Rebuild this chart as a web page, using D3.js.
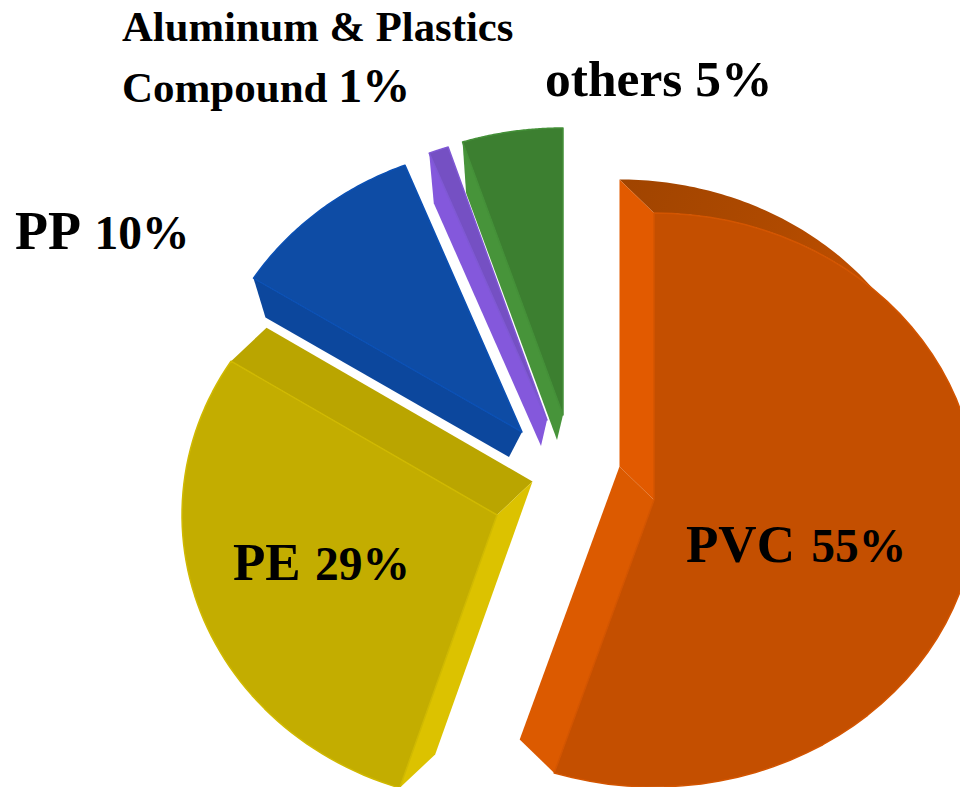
<!DOCTYPE html>
<html><head><meta charset="utf-8">
<script src="https://cdn.jsdelivr.net/npm/d3@7"></script>
<style>html,body{margin:0;padding:0;background:#fff;overflow:hidden}svg{display:block}</style>
</head><body><div id="chart"></div>
<script>
const categories=["PVC","PE","PP","Aluminum & Plastics Compound","others"];
const shares=[55,29,10,1,5];
const percentLabels=["55%","29%","10%","1%","5%"];

// layout: exploded positions and extrusion per slice
const centers=[[654,500],[497,515],[522,432],[547,420],[563,415]];
const radiiX=[323,315,318,320,325];
const RY=287;
const extrudeShift=[[-34.5,-33.5],[35.5,-33.5],[-13,25],[-6,26],[-6,25]];
const extrudeScale=[1,1,0.907,0.91,0.905];
const faceColors=["#c44f00","#c3ad00","#0e4ca5","#7550c3","#3c7f30"];
const edgeColors=["#d35500","#d0b900","#0b50b4","#7f58d4","#449038"];

const W=960,H=787;
const svg=d3.select("#chart").append("svg").attr("width",W).attr("height",H).attr("viewBox",[0,0,W,H]);
const grad=svg.append("defs").append("linearGradient").attr("id","rim")
  .attr("gradientUnits","userSpaceOnUse").attr("x1",621).attr("y1",180).attr("x2",880).attr("y2",300);
grad.append("stop").attr("offset",0).attr("stop-color","#a04400");
grad.append("stop").attr("offset",0.6).attr("stop-color","#b04a00");
grad.append("stop").attr("offset",1).attr("stop-color","#c45000");

const pie=d3.pie().sort(null).value(d=>d);
const arcs=pie(shares);
const line=d3.line();
const x=(i,a,r=1)=>centers[i][0]+Math.sin(a)*radiiX[i]*r;
const y=(i,a,r=1)=>centers[i][1]-Math.cos(a)*RY*r;
const front=(i,a)=>[x(i,a),y(i,a)];
const back=(i,a)=>{const s=extrudeScale[i];return [x(i,a,s)+extrudeShift[i][0],y(i,a,s)+extrudeShift[i][1]];};
const apexF=i=>centers[i];
const apexB=i=>[centers[i][0]+extrudeShift[i][0],centers[i][1]+extrudeShift[i][1]];
const poly=(pts,fill,g)=>g.append("path").attr("d",line(pts)+"Z").attr("fill",fill);
const sweep=(a0,a1)=>d3.range(0,61).map(k=>a0+(a1-a0)*k/60);

const g=svg.append("g");
// side walls, drawn behind the faces
const sides=[
  {i:0,fill:"#e25a00",k:"s"},
  {i:0,fill:"#dc5a00",k:"e"},
  {i:1,fill:"#baa500",k:"e"},
  {i:1,fill:"#dcc200",k:"s"},
  {i:2,fill:"#0c479d",k:"s"},
  {i:3,fill:"#8458dc",k:"s"},
  {i:4,fill:"#47943a",k:"s"}
];
// PVC rim on the upper arc
poly([...sweep(0,0.88).map(a=>back(0,a)),...sweep(0.97,0).map(a=>front(0,a))],"url(#rim)",g);
sides.forEach(s=>{
  const d=arcs[s.i],a=s.k==="s"?d.startAngle:d.endAngle;
  poly([apexF(s.i),front(s.i,a),back(s.i,a),apexB(s.i)],s.fill,g);
});
// faces
arcs.forEach((d,i)=>{
  const pts=[apexF(i),...sweep(d.startAngle,d.endAngle).map(a=>front(i,a))];
  g.append("path").attr("d",line(pts)+"Z").attr("fill",faceColors[i])
    .attr("stroke",edgeColors[i]).attr("stroke-width",1.5).attr("stroke-linejoin","round");
});

// labels
const labelRows=[
  {x:686,y:562,size:53,sizeB:47.5,dx:3,parts:["PVC ","55%"]},
  {x:233,y:580,size:53,sizeB:47.5,dx:1,parts:["PE ","29%"]},
  {x:15,y:249,size:54,sizeB:47.5,dx:3,parts:["PP ","10%"]},
  {x:545,y:96,size:51.5,sizeB:51.5,dx:0,parts:["others ","5%"]},
  {x:122,y:41,size:42.7,sizeB:42.7,dx:0,parts:["Aluminum & Plastics"]},
  {x:122,y:102,size:43,sizeB:48,dx:0,parts:["Compound ","1%"]}
];
const text=svg.append("g").attr("font-family","'Liberation Serif','Times New Roman',serif").attr("font-weight",700).attr("fill","#000");
labelRows.forEach(r=>{
  const t=text.append("text").attr("x",r.x).attr("y",r.y).attr("xml:space","preserve");
  r.parts.forEach((p,k)=>t.append("tspan").attr("font-size",k===0?r.size:r.sizeB).attr("dx",k===0?0:r.dx).text(p));
});
</script></body></html>
